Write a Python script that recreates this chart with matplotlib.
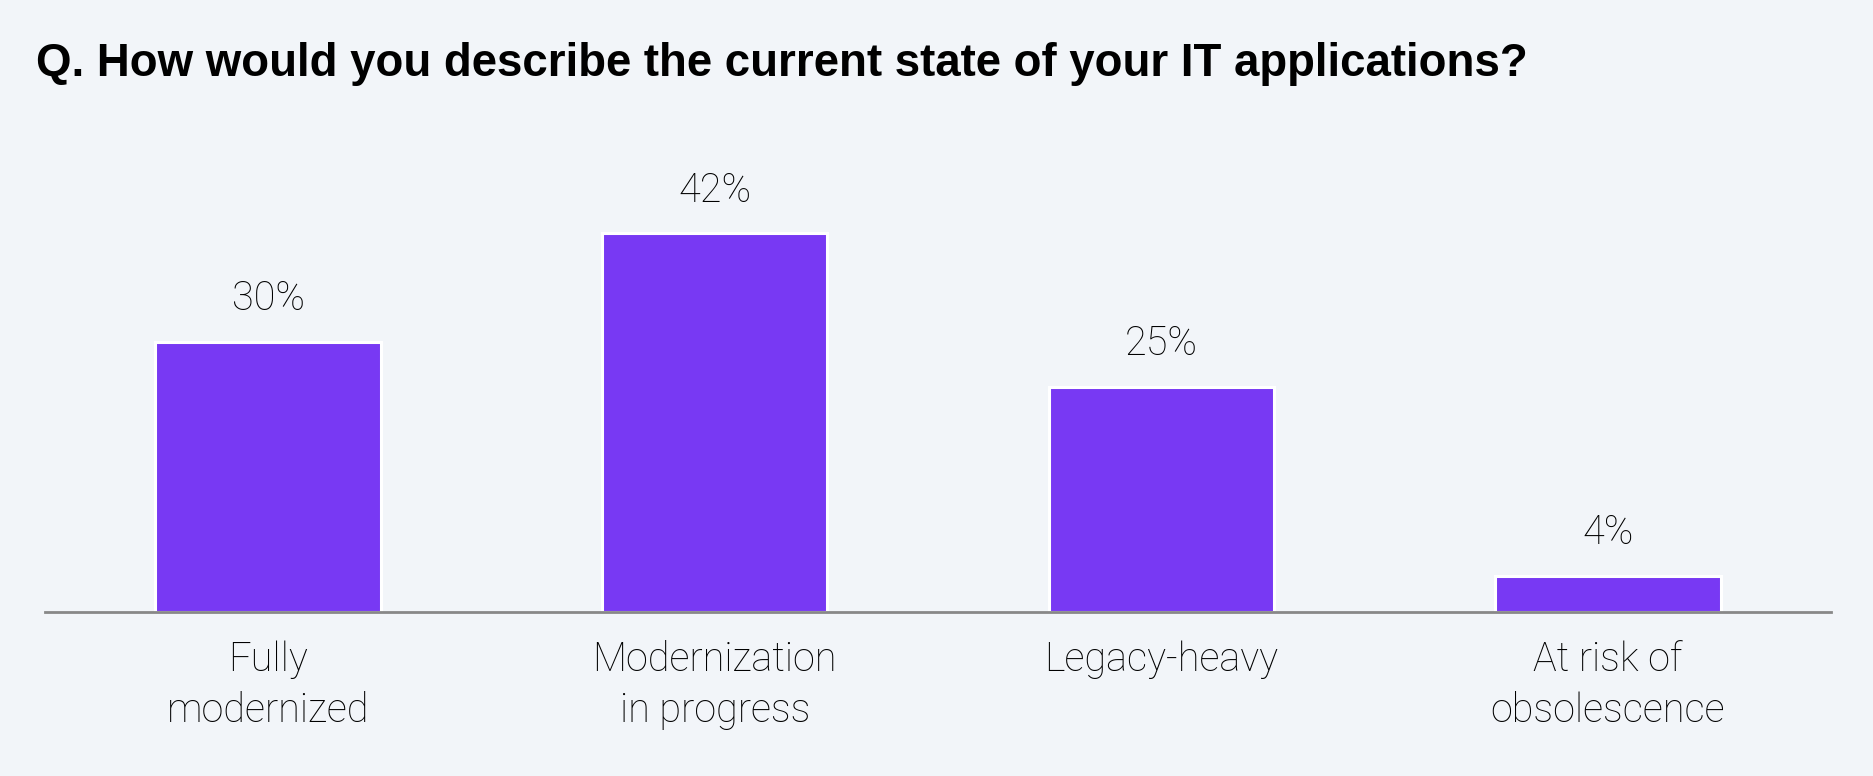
import matplotlib.pyplot as plt

categories = ["Fully\nmodernized", "Modernization\nin progress", "Legacy-heavy", "At risk of\nobsolescence"]
values = [30, 42, 25, 4]
value_labels = ["30%", "42%", "25%", "4%"]

bg = "#f2f5f9"
fig = plt.figure(figsize=(18.73, 7.76), dpi=100, facecolor=bg)
ax = fig.add_axes([0.024, 0.2119, 0.9536, 0.58])
ax.set_facecolor(bg)

x = range(len(categories))
bars = ax.bar(x, values, width=0.505, color="#7839f3", edgecolor="white", linewidth=2.2)

for b, lab in zip(bars, value_labels):
    ax.annotate(lab, (b.get_x() + b.get_width() / 2, b.get_height()),
                xytext=(0, 23), textcoords="offset points", ha="center", va="baseline",
                fontsize=28.5, fontfamily="Roboto", fontweight="light", color="#000000")

ax.set_xlim(-0.5, 3.5)
ax.set_ylim(0, 50)
ax.set_xticks(list(x))
ax.set_xticklabels(categories, fontsize=28.5, fontfamily="Roboto", fontweight="light",
                   color="#000000", linespacing=1.4)
ax.tick_params(axis="x", length=0, pad=21)
ax.set_yticks([])
for s in ["top", "left", "right"]:
    ax.spines[s].set_visible(False)
ax.spines["bottom"].set_color("#888888")
ax.spines["bottom"].set_linewidth(2)

fig.text(0.0192, 0.902, "Q. How would you describe the current state of your IT applications?",
         fontsize=32.9, fontweight="bold", fontfamily="Liberation Sans", va="baseline", ha="left")

fig.savefig("out.png", dpi=100, facecolor=bg)
